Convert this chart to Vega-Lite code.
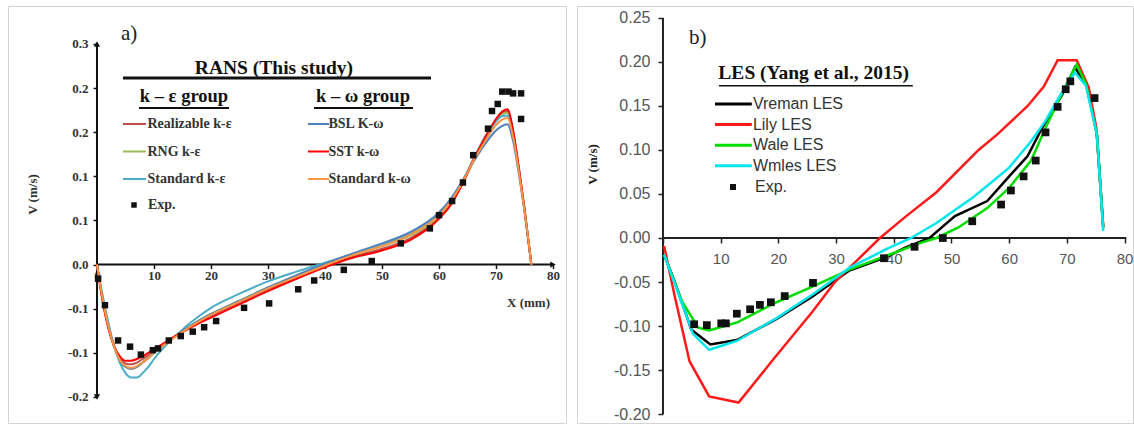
{
  "$schema": "https://vega.github.io/schema/vega-lite/v6.json",
  "padding": {"left": 7, "top": 5, "right": 0, "bottom": 0},
  "background": "white",
  "spacing": 9,
  "config": {
    "view": {"stroke": "#d4d4d4", "strokeWidth": 1},
    "axis": {"grid": false, "domain": false},
    "legend": {"padding": 0},
    "font": "Liberation Serif"
  },
  "resolve": {"scale": {"color": "independent", "stroke": "independent", "shape": "independent"}},
  "datasets": {
    "one": [{}],
    "rans": [
      {"model":"Realizable k-ε","g":"ke","x":0,"v":0},{"model":"Realizable k-ε","g":"ke","x":0.5,"v":-0.021},{"model":"Realizable k-ε","g":"ke","x":1,"v":-0.041},{"model":"Realizable k-ε","g":"ke","x":2,"v":-0.072},{"model":"Realizable k-ε","g":"ke","x":3,"v":-0.093},{"model":"Realizable k-ε","g":"ke","x":4,"v":-0.106},{"model":"Realizable k-ε","g":"ke","x":5,"v":-0.112},{"model":"Realizable k-ε","g":"ke","x":6,"v":-0.113},{"model":"Realizable k-ε","g":"ke","x":7,"v":-0.111},{"model":"Realizable k-ε","g":"ke","x":8,"v":-0.107},{"model":"Realizable k-ε","g":"ke","x":9,"v":-0.103},{"model":"Realizable k-ε","g":"ke","x":10,"v":-0.098},{"model":"Realizable k-ε","g":"ke","x":12,"v":-0.089},{"model":"Realizable k-ε","g":"ke","x":14,"v":-0.080},{"model":"Realizable k-ε","g":"ke","x":16,"v":-0.072},{"model":"Realizable k-ε","g":"ke","x":18,"v":-0.065},{"model":"Realizable k-ε","g":"ke","x":20,"v":-0.058},{"model":"Realizable k-ε","g":"ke","x":25,"v":-0.043},{"model":"Realizable k-ε","g":"ke","x":30,"v":-0.028},{"model":"Realizable k-ε","g":"ke","x":35,"v":-0.015},{"model":"Realizable k-ε","g":"ke","x":40,"v":-0.002},{"model":"Realizable k-ε","g":"ke","x":45,"v":0.009},{"model":"Realizable k-ε","g":"ke","x":50,"v":0.018},{"model":"Realizable k-ε","g":"ke","x":55,"v":0.030},{"model":"Realizable k-ε","g":"ke","x":60,"v":0.053},{"model":"Realizable k-ε","g":"ke","x":62,"v":0.068},{"model":"Realizable k-ε","g":"ke","x":64,"v":0.090},{"model":"Realizable k-ε","g":"ke","x":66,"v":0.117},{"model":"Realizable k-ε","g":"ke","x":68,"v":0.142},{"model":"Realizable k-ε","g":"ke","x":70,"v":0.163},{"model":"Realizable k-ε","g":"ke","x":71,"v":0.171},{"model":"Realizable k-ε","g":"ke","x":72,"v":0.174},{"model":"Realizable k-ε","g":"ke","x":73,"v":0.151},{"model":"Realizable k-ε","g":"ke","x":74,"v":0.109},{"model":"Realizable k-ε","g":"ke","x":75,"v":0.063},{"model":"Realizable k-ε","g":"ke","x":76,"v":0.011},{"model":"Realizable k-ε","g":"ke","x":76.2,"v":0},
      {"model":"RNG k-ε","g":"ke","x":0,"v":0},{"model":"RNG k-ε","g":"ke","x":0.5,"v":-0.020},{"model":"RNG k-ε","g":"ke","x":1,"v":-0.039},{"model":"RNG k-ε","g":"ke","x":2,"v":-0.070},{"model":"RNG k-ε","g":"ke","x":3,"v":-0.093},{"model":"RNG k-ε","g":"ke","x":4,"v":-0.108},{"model":"RNG k-ε","g":"ke","x":5,"v":-0.116},{"model":"RNG k-ε","g":"ke","x":6,"v":-0.118},{"model":"RNG k-ε","g":"ke","x":7,"v":-0.116},{"model":"RNG k-ε","g":"ke","x":8,"v":-0.111},{"model":"RNG k-ε","g":"ke","x":9,"v":-0.106},{"model":"RNG k-ε","g":"ke","x":10,"v":-0.100},{"model":"RNG k-ε","g":"ke","x":12,"v":-0.089},{"model":"RNG k-ε","g":"ke","x":14,"v":-0.080},{"model":"RNG k-ε","g":"ke","x":16,"v":-0.071},{"model":"RNG k-ε","g":"ke","x":18,"v":-0.063},{"model":"RNG k-ε","g":"ke","x":20,"v":-0.056},{"model":"RNG k-ε","g":"ke","x":25,"v":-0.041},{"model":"RNG k-ε","g":"ke","x":30,"v":-0.026},{"model":"RNG k-ε","g":"ke","x":35,"v":-0.013},{"model":"RNG k-ε","g":"ke","x":40,"v":0.000},{"model":"RNG k-ε","g":"ke","x":45,"v":0.011},{"model":"RNG k-ε","g":"ke","x":50,"v":0.021},{"model":"RNG k-ε","g":"ke","x":55,"v":0.033},{"model":"RNG k-ε","g":"ke","x":60,"v":0.055},{"model":"RNG k-ε","g":"ke","x":62,"v":0.070},{"model":"RNG k-ε","g":"ke","x":64,"v":0.091},{"model":"RNG k-ε","g":"ke","x":66,"v":0.118},{"model":"RNG k-ε","g":"ke","x":68,"v":0.143},{"model":"RNG k-ε","g":"ke","x":70,"v":0.163},{"model":"RNG k-ε","g":"ke","x":71,"v":0.170},{"model":"RNG k-ε","g":"ke","x":72,"v":0.172},{"model":"RNG k-ε","g":"ke","x":73,"v":0.150},{"model":"RNG k-ε","g":"ke","x":74,"v":0.109},{"model":"RNG k-ε","g":"ke","x":75,"v":0.062},{"model":"RNG k-ε","g":"ke","x":76,"v":0.011},{"model":"RNG k-ε","g":"ke","x":76.2,"v":0},
      {"model":"Standard k-ε","g":"ke","x":0,"v":0},{"model":"Standard k-ε","g":"ke","x":0.5,"v":-0.018},{"model":"Standard k-ε","g":"ke","x":1,"v":-0.035},{"model":"Standard k-ε","g":"ke","x":2,"v":-0.066},{"model":"Standard k-ε","g":"ke","x":3,"v":-0.092},{"model":"Standard k-ε","g":"ke","x":4,"v":-0.111},{"model":"Standard k-ε","g":"ke","x":5,"v":-0.123},{"model":"Standard k-ε","g":"ke","x":6,"v":-0.128},{"model":"Standard k-ε","g":"ke","x":7,"v":-0.128},{"model":"Standard k-ε","g":"ke","x":8,"v":-0.123},{"model":"Standard k-ε","g":"ke","x":9,"v":-0.116},{"model":"Standard k-ε","g":"ke","x":10,"v":-0.107},{"model":"Standard k-ε","g":"ke","x":12,"v":-0.092},{"model":"Standard k-ε","g":"ke","x":14,"v":-0.080},{"model":"Standard k-ε","g":"ke","x":16,"v":-0.068},{"model":"Standard k-ε","g":"ke","x":18,"v":-0.058},{"model":"Standard k-ε","g":"ke","x":20,"v":-0.049},{"model":"Standard k-ε","g":"ke","x":25,"v":-0.033},{"model":"Standard k-ε","g":"ke","x":30,"v":-0.019},{"model":"Standard k-ε","g":"ke","x":35,"v":-0.008},{"model":"Standard k-ε","g":"ke","x":40,"v":0.002},{"model":"Standard k-ε","g":"ke","x":45,"v":0.012},{"model":"Standard k-ε","g":"ke","x":50,"v":0.022},{"model":"Standard k-ε","g":"ke","x":55,"v":0.035},{"model":"Standard k-ε","g":"ke","x":60,"v":0.057},{"model":"Standard k-ε","g":"ke","x":62,"v":0.072},{"model":"Standard k-ε","g":"ke","x":64,"v":0.093},{"model":"Standard k-ε","g":"ke","x":66,"v":0.119},{"model":"Standard k-ε","g":"ke","x":68,"v":0.144},{"model":"Standard k-ε","g":"ke","x":70,"v":0.162},{"model":"Standard k-ε","g":"ke","x":71,"v":0.168},{"model":"Standard k-ε","g":"ke","x":72,"v":0.169},{"model":"Standard k-ε","g":"ke","x":73,"v":0.148},{"model":"Standard k-ε","g":"ke","x":74,"v":0.108},{"model":"Standard k-ε","g":"ke","x":75,"v":0.062},{"model":"Standard k-ε","g":"ke","x":76,"v":0.011},{"model":"Standard k-ε","g":"ke","x":76.2,"v":0},
      {"model":"BSL K-ω","g":"kw","x":0,"v":0},{"model":"BSL K-ω","g":"kw","x":0.5,"v":-0.020},{"model":"BSL K-ω","g":"kw","x":1,"v":-0.039},{"model":"BSL K-ω","g":"kw","x":2,"v":-0.070},{"model":"BSL K-ω","g":"kw","x":3,"v":-0.093},{"model":"BSL K-ω","g":"kw","x":4,"v":-0.108},{"model":"BSL K-ω","g":"kw","x":5,"v":-0.116},{"model":"BSL K-ω","g":"kw","x":6,"v":-0.118},{"model":"BSL K-ω","g":"kw","x":7,"v":-0.116},{"model":"BSL K-ω","g":"kw","x":8,"v":-0.111},{"model":"BSL K-ω","g":"kw","x":9,"v":-0.106},{"model":"BSL K-ω","g":"kw","x":10,"v":-0.100},{"model":"BSL K-ω","g":"kw","x":12,"v":-0.089},{"model":"BSL K-ω","g":"kw","x":14,"v":-0.080},{"model":"BSL K-ω","g":"kw","x":16,"v":-0.071},{"model":"BSL K-ω","g":"kw","x":18,"v":-0.063},{"model":"BSL K-ω","g":"kw","x":20,"v":-0.056},{"model":"BSL K-ω","g":"kw","x":25,"v":-0.041},{"model":"BSL K-ω","g":"kw","x":30,"v":-0.026},{"model":"BSL K-ω","g":"kw","x":35,"v":-0.012},{"model":"BSL K-ω","g":"kw","x":40,"v":0.001},{"model":"BSL K-ω","g":"kw","x":45,"v":0.013},{"model":"BSL K-ω","g":"kw","x":50,"v":0.024},{"model":"BSL K-ω","g":"kw","x":55,"v":0.037},{"model":"BSL K-ω","g":"kw","x":60,"v":0.059},{"model":"BSL K-ω","g":"kw","x":62,"v":0.074},{"model":"BSL K-ω","g":"kw","x":64,"v":0.094},{"model":"BSL K-ω","g":"kw","x":66,"v":0.116},{"model":"BSL K-ω","g":"kw","x":68,"v":0.136},{"model":"BSL K-ω","g":"kw","x":70,"v":0.152},{"model":"BSL K-ω","g":"kw","x":71,"v":0.157},{"model":"BSL K-ω","g":"kw","x":72,"v":0.159},{"model":"BSL K-ω","g":"kw","x":73,"v":0.140},{"model":"BSL K-ω","g":"kw","x":74,"v":0.103},{"model":"BSL K-ω","g":"kw","x":75,"v":0.060},{"model":"BSL K-ω","g":"kw","x":76,"v":0.010},{"model":"BSL K-ω","g":"kw","x":76.2,"v":0},
      {"model":"SST k-ω","g":"kw","x":0,"v":0},{"model":"SST k-ω","g":"kw","x":0.5,"v":-0.022},{"model":"SST k-ω","g":"kw","x":1,"v":-0.042},{"model":"SST k-ω","g":"kw","x":2,"v":-0.072},{"model":"SST k-ω","g":"kw","x":3,"v":-0.092},{"model":"SST k-ω","g":"kw","x":4,"v":-0.104},{"model":"SST k-ω","g":"kw","x":5,"v":-0.109},{"model":"SST k-ω","g":"kw","x":6,"v":-0.109},{"model":"SST k-ω","g":"kw","x":7,"v":-0.107},{"model":"SST k-ω","g":"kw","x":8,"v":-0.104},{"model":"SST k-ω","g":"kw","x":9,"v":-0.100},{"model":"SST k-ω","g":"kw","x":10,"v":-0.096},{"model":"SST k-ω","g":"kw","x":12,"v":-0.088},{"model":"SST k-ω","g":"kw","x":14,"v":-0.080},{"model":"SST k-ω","g":"kw","x":16,"v":-0.073},{"model":"SST k-ω","g":"kw","x":18,"v":-0.066},{"model":"SST k-ω","g":"kw","x":20,"v":-0.060},{"model":"SST k-ω","g":"kw","x":25,"v":-0.045},{"model":"SST k-ω","g":"kw","x":30,"v":-0.030},{"model":"SST k-ω","g":"kw","x":35,"v":-0.016},{"model":"SST k-ω","g":"kw","x":40,"v":-0.003},{"model":"SST k-ω","g":"kw","x":45,"v":0.008},{"model":"SST k-ω","g":"kw","x":50,"v":0.016},{"model":"SST k-ω","g":"kw","x":55,"v":0.028},{"model":"SST k-ω","g":"kw","x":60,"v":0.052},{"model":"SST k-ω","g":"kw","x":62,"v":0.067},{"model":"SST k-ω","g":"kw","x":64,"v":0.090},{"model":"SST k-ω","g":"kw","x":66,"v":0.118},{"model":"SST k-ω","g":"kw","x":68,"v":0.143},{"model":"SST k-ω","g":"kw","x":70,"v":0.165},{"model":"SST k-ω","g":"kw","x":71,"v":0.173},{"model":"SST k-ω","g":"kw","x":72,"v":0.176},{"model":"SST k-ω","g":"kw","x":73,"v":0.152},{"model":"SST k-ω","g":"kw","x":74,"v":0.110},{"model":"SST k-ω","g":"kw","x":75,"v":0.063},{"model":"SST k-ω","g":"kw","x":76,"v":0.011},{"model":"SST k-ω","g":"kw","x":76.2,"v":0},
      {"model":"Standard k-ω","g":"kw","x":0,"v":0},{"model":"Standard k-ω","g":"kw","x":0.5,"v":-0.020},{"model":"Standard k-ω","g":"kw","x":1,"v":-0.039},{"model":"Standard k-ω","g":"kw","x":2,"v":-0.070},{"model":"Standard k-ω","g":"kw","x":3,"v":-0.093},{"model":"Standard k-ω","g":"kw","x":4,"v":-0.108},{"model":"Standard k-ω","g":"kw","x":5,"v":-0.115},{"model":"Standard k-ω","g":"kw","x":6,"v":-0.117},{"model":"Standard k-ω","g":"kw","x":7,"v":-0.115},{"model":"Standard k-ω","g":"kw","x":8,"v":-0.111},{"model":"Standard k-ω","g":"kw","x":9,"v":-0.106},{"model":"Standard k-ω","g":"kw","x":10,"v":-0.100},{"model":"Standard k-ω","g":"kw","x":12,"v":-0.090},{"model":"Standard k-ω","g":"kw","x":14,"v":-0.081},{"model":"Standard k-ω","g":"kw","x":16,"v":-0.072},{"model":"Standard k-ω","g":"kw","x":18,"v":-0.064},{"model":"Standard k-ω","g":"kw","x":20,"v":-0.057},{"model":"Standard k-ω","g":"kw","x":25,"v":-0.042},{"model":"Standard k-ω","g":"kw","x":30,"v":-0.027},{"model":"Standard k-ω","g":"kw","x":35,"v":-0.014},{"model":"Standard k-ω","g":"kw","x":40,"v":-0.001},{"model":"Standard k-ω","g":"kw","x":45,"v":0.011},{"model":"Standard k-ω","g":"kw","x":50,"v":0.021},{"model":"Standard k-ω","g":"kw","x":55,"v":0.034},{"model":"Standard k-ω","g":"kw","x":60,"v":0.056},{"model":"Standard k-ω","g":"kw","x":62,"v":0.071},{"model":"Standard k-ω","g":"kw","x":64,"v":0.092},{"model":"Standard k-ω","g":"kw","x":66,"v":0.117},{"model":"Standard k-ω","g":"kw","x":68,"v":0.139},{"model":"Standard k-ω","g":"kw","x":70,"v":0.158},{"model":"Standard k-ω","g":"kw","x":71,"v":0.164},{"model":"Standard k-ω","g":"kw","x":72,"v":0.166},{"model":"Standard k-ω","g":"kw","x":73,"v":0.145},{"model":"Standard k-ω","g":"kw","x":74,"v":0.106},{"model":"Standard k-ω","g":"kw","x":75,"v":0.061},{"model":"Standard k-ω","g":"kw","x":76,"v":0.011},{"model":"Standard k-ω","g":"kw","x":76.2,"v":0}
    ],
    "rans_exp": [
      {"series":"Exp.","x":0.2,"v":-0.016},{"series":"Exp.","x":1.4,"v":-0.046},{"series":"Exp.","x":3.7,"v":-0.086},{"series":"Exp.","x":5.8,"v":-0.093},{"series":"Exp.","x":7.7,"v":-0.102},{"series":"Exp.","x":9.8,"v":-0.097},{"series":"Exp.","x":10.7,"v":-0.095},{"series":"Exp.","x":12.6,"v":-0.086},{"series":"Exp.","x":14.7,"v":-0.081},{"series":"Exp.","x":16.8,"v":-0.076},{"series":"Exp.","x":18.8,"v":-0.071},{"series":"Exp.","x":20.9,"v":-0.064},{"series":"Exp.","x":25.8,"v":-0.049},{"series":"Exp.","x":30.2,"v":-0.044},{"series":"Exp.","x":35.3,"v":-0.028},{"series":"Exp.","x":38.1,"v":-0.018},{"series":"Exp.","x":43.3,"v":-0.006},{"series":"Exp.","x":48.2,"v":0.004},{"series":"Exp.","x":53.3,"v":0.024},{"series":"Exp.","x":58.4,"v":0.041},{"series":"Exp.","x":60,"v":0.056},{"series":"Exp.","x":62.3,"v":0.072},{"series":"Exp.","x":64.2,"v":0.093},{"series":"Exp.","x":66,"v":0.124},{"series":"Exp.","x":68.6,"v":0.154},{"series":"Exp.","x":69.3,"v":0.174},{"series":"Exp.","x":70.3,"v":0.182},{"series":"Exp.","x":71.1,"v":0.196},{"series":"Exp.","x":72.2,"v":0.196},{"series":"Exp.","x":73,"v":0.194},{"series":"Exp.","x":74.4,"v":0.194},{"series":"Exp.","x":74.4,"v":0.165}
    ],
    "les": [
      {"model":"Vreman LES","x":0.2,"v":-0.019},{"model":"Vreman LES","x":2.0,"v":-0.049},{"model":"Vreman LES","x":4.9,"v":-0.104},{"model":"Vreman LES","x":8.2,"v":-0.121},{"model":"Vreman LES","x":12.8,"v":-0.116},{"model":"Vreman LES","x":19.7,"v":-0.092},{"model":"Vreman LES","x":26.0,"v":-0.066},{"model":"Vreman LES","x":32.3,"v":-0.037},{"model":"Vreman LES","x":38.6,"v":-0.022},{"model":"Vreman LES","x":42,"v":-0.011},{"model":"Vreman LES","x":46.2,"v":0},{"model":"Vreman LES","x":50.6,"v":0.025},{"model":"Vreman LES","x":56.2,"v":0.042},{"model":"Vreman LES","x":60.0,"v":0.070},{"model":"Vreman LES","x":63.2,"v":0.093},{"model":"Vreman LES","x":65.7,"v":0.125},{"model":"Vreman LES","x":69.2,"v":0.163},{"model":"Vreman LES","x":71.4,"v":0.194},{"model":"Vreman LES","x":73.6,"v":0.171},{"model":"Vreman LES","x":75.2,"v":0.118},{"model":"Vreman LES","x":76.3,"v":0.012},
      {"model":"Lily LES","x":0.2,"v":-0.009},{"model":"Lily LES","x":2.0,"v":-0.065},{"model":"Lily LES","x":4.6,"v":-0.140},{"model":"Lily LES","x":8.0,"v":-0.180},{"model":"Lily LES","x":13.1,"v":-0.187},{"model":"Lily LES","x":19.1,"v":-0.138},{"model":"Lily LES","x":26.0,"v":-0.083},{"model":"Lily LES","x":29.8,"v":-0.050},{"model":"Lily LES","x":32.3,"v":-0.034},{"model":"Lily LES","x":37.6,"v":0},{"model":"Lily LES","x":42,"v":0.024},{"model":"Lily LES","x":47.4,"v":0.052},{"model":"Lily LES","x":54.7,"v":0.100},{"model":"Lily LES","x":58,"v":0.118},{"model":"Lily LES","x":63.2,"v":0.150},{"model":"Lily LES","x":66,"v":0.172},{"model":"Lily LES","x":68.4,"v":0.202},{"model":"Lily LES","x":71.7,"v":0.202},{"model":"Lily LES","x":73.8,"v":0.171},{"model":"Lily LES","x":75.1,"v":0.125},{"model":"Lily LES","x":76.3,"v":0.012},
      {"model":"Wale LES","x":0.2,"v":-0.019},{"model":"Wale LES","x":3.3,"v":-0.072},{"model":"Wale LES","x":6.1,"v":-0.102},{"model":"Wale LES","x":8.0,"v":-0.105},{"model":"Wale LES","x":12.8,"v":-0.096},{"model":"Wale LES","x":19.7,"v":-0.073},{"model":"Wale LES","x":26.0,"v":-0.055},{"model":"Wale LES","x":32.3,"v":-0.036},{"model":"Wale LES","x":39.2,"v":-0.019},{"model":"Wale LES","x":44.9,"v":-0.005},{"model":"Wale LES","x":47.4,"v":0},{"model":"Wale LES","x":51.2,"v":0.012},{"model":"Wale LES","x":56.2,"v":0.034},{"model":"Wale LES","x":60.0,"v":0.057},{"model":"Wale LES","x":63.8,"v":0.088},{"model":"Wale LES","x":66.3,"v":0.125},{"model":"Wale LES","x":69.5,"v":0.169},{"model":"Wale LES","x":71.7,"v":0.197},{"model":"Wale LES","x":73.3,"v":0.175},{"model":"Wale LES","x":75.2,"v":0.118},{"model":"Wale LES","x":76.3,"v":0.012},
      {"model":"Wmles LES","x":0.2,"v":-0.019},{"model":"Wmles LES","x":2.5,"v":-0.060},{"model":"Wmles LES","x":5.2,"v":-0.109},{"model":"Wmles LES","x":8.0,"v":-0.127},{"model":"Wmles LES","x":12.8,"v":-0.117},{"model":"Wmles LES","x":19.7,"v":-0.091},{"model":"Wmles LES","x":26,"v":-0.064},{"model":"Wmles LES","x":32.3,"v":-0.034},{"model":"Wmles LES","x":38.6,"v":-0.013},{"model":"Wmles LES","x":43.0,"v":0},{"model":"Wmles LES","x":47.4,"v":0.017},{"model":"Wmles LES","x":53.7,"v":0.046},{"model":"Wmles LES","x":56.9,"v":0.063},{"model":"Wmles LES","x":60,"v":0.080},{"model":"Wmles LES","x":63.8,"v":0.110},{"model":"Wmles LES","x":66.3,"v":0.133},{"model":"Wmles LES","x":68.9,"v":0.163},{"model":"Wmles LES","x":71.4,"v":0.188},{"model":"Wmles LES","x":73.3,"v":0.173},{"model":"Wmles LES","x":75.2,"v":0.118},{"model":"Wmles LES","x":76.3,"v":0.008}
    ],
    "les_exp": [
      {"series":"Exp.","x":5.4,"v":-0.098},{"series":"Exp.","x":7.6,"v":-0.099},{"series":"Exp.","x":10.1,"v":-0.097},{"series":"Exp.","x":10.9,"v":-0.097},{"series":"Exp.","x":12.8,"v":-0.086},{"series":"Exp.","x":15.1,"v":-0.081},{"series":"Exp.","x":16.8,"v":-0.076},{"series":"Exp.","x":18.7,"v":-0.073},{"series":"Exp.","x":21.1,"v":-0.066},{"series":"Exp.","x":26.0,"v":-0.051},{"series":"Exp.","x":38.3,"v":-0.023},{"series":"Exp.","x":43.6,"v":-0.010},{"series":"Exp.","x":48.5,"v":0.000},{"series":"Exp.","x":53.6,"v":0.019},{"series":"Exp.","x":58.6,"v":0.038},{"series":"Exp.","x":60.3,"v":0.054},{"series":"Exp.","x":62.5,"v":0.070},{"series":"Exp.","x":64.6,"v":0.088},{"series":"Exp.","x":66.3,"v":0.120},{"series":"Exp.","x":68.4,"v":0.149},{"series":"Exp.","x":69.8,"v":0.169},{"series":"Exp.","x":70.6,"v":0.178},{"series":"Exp.","x":74.8,"v":0.159}
    ]
  },
  "hconcat": [
    {
      "width": 558,
      "height": 417,
      "layer": [
        {"data": {"name": "one"}, "mark": {"type": "rule", "color": "#111", "strokeWidth": 2}, "encoding": {"x": {"datum": 0}, "x2": {"datum": 80}, "y": {"datum": 0}}},
        {"data": {"name": "one"}, "mark": {"type": "rule", "color": "#111", "strokeWidth": 2}, "encoding": {"x": {"datum": 0}, "y": {"datum": -0.15}, "y2": {"datum": 0.25}}},
        {"data": {"name": "one"}, "mark": {"type": "point", "shape": "triangle-right", "filled": true, "color": "#111", "size": 40, "opacity": 1}, "encoding": {"x": {"datum": 80}, "y": {"datum": 0}}},
        {"data": {"name": "one"}, "mark": {"type": "point", "shape": "triangle-up", "filled": true, "color": "#111", "size": 40, "opacity": 1}, "encoding": {"x": {"datum": 0}, "y": {"datum": 0.25}}},
        {"data": {"name": "one"}, "mark": {"type": "point", "shape": "triangle-down", "filled": true, "color": "#111", "size": 40, "opacity": 1}, "encoding": {"x": {"datum": 0}, "y": {"datum": -0.15}}},
        {
          "data": {"name": "rans"},
          "transform": [{"filter": "datum.g == 'ke'"}],
          "mark": {"type": "line", "interpolate": "monotone", "strokeWidth": 2},
          "encoding": {
            "x": {"field": "x", "type": "quantitative",
              "scale": {"domain": [-15.61, 82.28], "nice": false, "zero": false},
              "axis": {"title": "X (mm)", "values": [0,10,20,30,40,50,60,70,80], "offset": -158.4, "domain": false, "grid": false,
                "tickSize": 4, "tickColor": "#111", "tickWidth": 1.5, "labelFont": "Liberation Serif", "labelFontWeight": "bold", "labelFontSize": 13, "labelColor": "#333",
                "labelPadding": 1, "labelFlush": false, "labelOverlap": false, "labelBound": false,
                "titleFont": "Liberation Serif", "titleFontWeight": "bold", "titleFontSize": 13, "titleColor": "#333", "titleX": 520, "titleY": 38, "titleAlign": "center", "titleBaseline": "middle"}},
            "y": {"field": "v", "type": "quantitative",
              "scale": {"domain": [-0.1795, 0.293], "nice": false, "zero": false},
              "axis": {"title": "V (m/s)", "values": [-0.15,-0.1,-0.05,0,0.05,0.1,0.15,0.2,0.25], "offset": -89, "domain": false, "grid": false,
                "tickSize": 4, "tickColor": "#111", "tickWidth": 1.5,
                "labelExpr": "replace(format(datum.value + (datum.value < 0 ? -0.001 : 0.001), '.1f'), '−', '-')",
                "labelFont": "Liberation Serif", "labelFontWeight": "bold", "labelFontSize": 13, "labelColor": "#333", "labelPadding": 5, "labelOverlap": false, "labelBound": false,
                "titleFont": "Liberation Serif", "titleFontWeight": "bold", "titleFontSize": 13, "titleColor": "#333", "titleX": -65, "titleY": 188, "titleAngle": -90, "titleAlign": "center", "titleBaseline": "middle"}},
            "color": {"field": "model", "type": "nominal",
              "scale": {"domain": ["Realizable k-ε", "RNG k-ε", "Standard k-ε"], "range": ["#c0504d", "#9bbb59", "#4bacc6"]},
              "legend": {"orient": "none", "legendX": 115, "legendY": 109, "title": null, "direction": "vertical",
                "symbolType": "M-1.44,0H1.44", "symbolSize": 256, "symbolStrokeWidth": 2, "symbolOffset": 2.5, "labelOffset": 4,
                "labelFont": "Liberation Serif", "labelFontWeight": "bold", "labelFontSize": 14, "labelColor": "#333", "rowPadding": 11.5, "padding": 0}}
          }
        },
        {
          "data": {"name": "rans"},
          "transform": [{"filter": "datum.g == 'kw'"}],
          "mark": {"type": "line", "interpolate": "monotone", "strokeWidth": 2},
          "encoding": {
            "x": {"field": "x", "type": "quantitative"},
            "y": {"field": "v", "type": "quantitative"},
            "stroke": {"field": "model", "type": "nominal",
              "scale": {"domain": ["BSL K-ω", "SST k-ω", "Standard k-ω"], "range": ["#4f81bd", "#ff0000", "#f79646"]},
              "legend": {"orient": "none", "legendX": 300, "legendY": 109, "title": null, "direction": "vertical",
                "symbolType": "M-1.31,0H1.31", "symbolSize": 256, "symbolStrokeWidth": 2, "symbolOffset": 1.5, "labelOffset": 1,
                "labelFont": "Liberation Serif", "labelFontWeight": "bold", "labelFontSize": 14, "labelColor": "#333", "rowPadding": 11.5, "padding": 0}}
          }
        },
        {
          "data": {"name": "rans_exp"},
          "mark": {"type": "point", "filled": true, "color": "#111", "size": 42, "opacity": 1},
          "encoding": {
            "x": {"field": "x", "type": "quantitative"},
            "y": {"field": "v", "type": "quantitative"},
            "shape": {"field": "series", "type": "nominal", "scale": {"range": ["square"]},
              "legend": {"orient": "none", "legendX": 119, "legendY": 192, "title": null, "symbolSize": 30, "symbolStrokeWidth": 0,
                "symbolFillColor": "#111", "labelOffset": 7, "labelFont": "Liberation Serif", "labelFontWeight": "bold", "labelFontSize": 14, "labelColor": "#333", "padding": 0}}
          }
        },
        {"data": {"name": "one"}, "mark": {"type": "text", "text": "a)", "font": "Liberation Serif", "fontSize": 21, "color": "#222", "align": "left", "baseline": "middle"}, "encoding": {"x": {"datum": 4.2}, "y": {"datum": 0.261}}},
        {"data": {"name": "one"}, "mark": {"type": "text", "text": "RANS (This study)", "font": "Liberation Serif", "fontWeight": "bold", "fontSize": 19.5, "color": "#111", "align": "center", "baseline": "middle"}, "encoding": {"x": {"datum": 31.05}, "y": {"datum": 0.2228}}},
        {"data": {"name": "one"}, "mark": {"type": "rule", "color": "#111", "strokeWidth": 3}, "encoding": {"x": {"datum": 4.56}, "x2": {"datum": 58.6}, "y": {"datum": 0.2114}}},
        {"data": {"name": "one"}, "mark": {"type": "text", "text": "k – ε group", "font": "Liberation Serif", "fontWeight": "bold", "fontSize": 18.5, "color": "#111", "align": "center", "baseline": "middle"}, "encoding": {"x": {"datum": 15.26}, "y": {"datum": 0.191}}},
        {"data": {"name": "one"}, "mark": {"type": "rule", "color": "#111", "strokeWidth": 2}, "encoding": {"x": {"datum": 7.37}, "x2": {"datum": 23.16}, "y": {"datum": 0.1775}}},
        {"data": {"name": "one"}, "mark": {"type": "text", "text": "k – ω group", "font": "Liberation Serif", "fontWeight": "bold", "fontSize": 18.5, "color": "#111", "align": "center", "baseline": "middle"}, "encoding": {"x": {"datum": 46.67}, "y": {"datum": 0.191}}},
        {"data": {"name": "one"}, "mark": {"type": "rule", "color": "#111", "strokeWidth": 2}, "encoding": {"x": {"datum": 38.07}, "x2": {"datum": 55.44}, "y": {"datum": 0.1775}}}
      ]
    },
    {
      "width": 556,
      "height": 417,
      "layer": [
        {"data": {"name": "one"}, "mark": {"type": "rule", "color": "#222", "strokeWidth": 2}, "encoding": {"x": {"datum": 0}, "x2": {"datum": 80.3}, "y": {"datum": 0}}},
        {"data": {"name": "one"}, "mark": {"type": "rule", "color": "#222", "strokeWidth": 2}, "encoding": {"x": {"datum": 0}, "y": {"datum": -0.2}, "y2": {"datum": 0.25}}},
        {
          "data": {"name": "les"},
          "mark": {"type": "line", "strokeWidth": 2.5},
          "encoding": {
            "x": {"field": "x", "type": "quantitative",
              "scale": {"domain": [-14.9, 81.46], "nice": false, "zero": false},
              "axis": {"title": null, "values": [0,5,10,15,20,25,30,35,40,45,50,55,60,65,70,75,80], "offset": -185, "domain": false, "grid": false,
                "tickSize": {"condition": {"test": "datum.value % 10 != 0", "value": 3}, "value": 5},
                "tickColor": "#222", "tickWidth": 1.5,
                "labelExpr": "datum.value == 0 || datum.value % 10 != 0 ? '' : datum.label",
                "labelFont": "Liberation Sans", "labelFontSize": 15, "labelColor": "#555", "labelPadding": 8, "labelFlush": false, "labelOverlap": false, "labelBound": false}},
            "y": {"field": "v", "type": "quantitative",
              "scale": {"domain": [-0.2102, 0.2636], "nice": false, "zero": false},
              "axis": {"title": "V (m/s)", "values": [-0.2,-0.175,-0.15,-0.125,-0.1,-0.075,-0.05,-0.025,0,0.025,0.05,0.075,0.1,0.125,0.15,0.175,0.2,0.225,0.25],
                "offset": -86, "domain": false, "grid": false,
                "tickSize": {"condition": {"test": "abs(datum.value*20 - round(datum.value*20)) > 0.1", "value": 3}, "value": 5},
                "tickColor": "#222", "tickWidth": 1.5,
                "labelExpr": "abs(datum.value*20 - round(datum.value*20)) > 0.1 ? '' : replace(format(datum.value, '.2f'), '−', '-')",
                "labelFont": "Liberation Sans", "labelFontSize": 16, "labelColor": "#555", "labelPadding": 8, "labelOverlap": false, "labelBound": false,
                "titleFont": "Liberation Serif", "titleFontWeight": "bold", "titleFontSize": 13, "titleColor": "#222", "titleX": -71, "titleY": 158, "titleAngle": -90, "titleAlign": "center", "titleBaseline": "middle"}},
            "color": {"field": "model", "type": "nominal",
              "scale": {"domain": ["Vreman LES", "Lily LES", "Wale LES", "Wmles LES"], "range": ["#000000", "#ff1a1a", "#00dd00", "#00e5ee"]},
              "legend": {"orient": "none", "legendX": 141, "legendY": 88.5, "title": null, "direction": "vertical",
                "symbolType": "M-2.3,0H2.3", "symbolSize": 256, "symbolStrokeWidth": 3, "symbolOffset": 5.9, "labelOffset": 10,
                "labelFont": "Liberation Sans", "labelFontSize": 16, "labelColor": "#333", "rowPadding": 2.6, "padding": 0}}
          }
        },
        {
          "data": {"name": "les_exp"},
          "mark": {"type": "point", "filled": true, "color": "#111", "size": 60, "opacity": 1},
          "encoding": {
            "x": {"field": "x", "type": "quantitative"},
            "y": {"field": "v", "type": "quantitative"},
            "shape": {"field": "series", "type": "nominal", "scale": {"range": ["square"]},
              "legend": {"orient": "none", "legendX": 148, "legendY": 173, "title": null, "symbolSize": 36, "symbolStrokeWidth": 0,
                "symbolFillColor": "#111", "labelOffset": 14, "labelFont": "Liberation Sans", "labelFontSize": 16, "labelColor": "#333", "padding": 0}}
          }
        },
        {"data": {"name": "one"}, "mark": {"type": "text", "text": "b)", "font": "Liberation Serif", "fontSize": 21, "color": "#222", "align": "left", "baseline": "middle"}, "encoding": {"x": {"datum": 4.5}, "y": {"datum": 0.227}}},
        {"data": {"name": "one"}, "mark": {"type": "text", "text": "LES (Yang et al., 2015)", "font": "Liberation Serif", "fontWeight": "bold", "fontSize": 19.5, "color": "#111", "align": "left", "baseline": "middle"}, "encoding": {"x": {"datum": 9.6}, "y": {"datum": 0.187}}},
        {"data": {"name": "one"}, "mark": {"type": "rule", "color": "#111", "strokeWidth": 1.5}, "encoding": {"x": {"datum": 9.7}, "x2": {"datum": 43.3}, "y": {"datum": 0.173}}}
      ]
    }
  ]
}
